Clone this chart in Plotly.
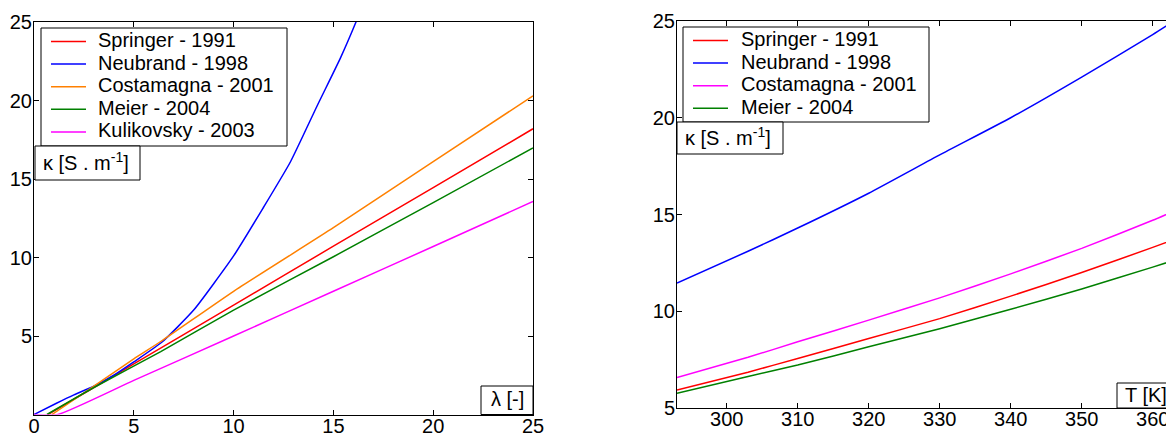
import plotly.graph_objects as go

# page is 1174x433; the browser body has an 8px margin, so the figure is 8px smaller
PAGE_W, PAGE_H = 1174, 433
OFF = 8
W, H = PAGE_W - OFF, PAGE_H - OFF
FONT = "Liberation Sans, Arial, Helvetica, sans-serif"

# ---------------- Left panel: kappa vs lambda ----------------
series_left = ["Springer - 1991", "Neubrand - 1998", "Costamagna - 2001",
               "Meier - 2004", "Kulikovsky - 2003"]
colors_left = ["#ff0000", "#0000ff", "#ff8000", "#008000", "#ff00ff"]

lam_springer = [0.7, 3, 5, 10, 15, 20, 25]
kap_springer = [0.0, 1.72, 3.22, 6.97, 10.72, 14.45, 18.2]

lam_neubrand = [0, 1.1, 2, 3, 4, 5, 6.4, 8, 10, 11.5, 12.85, 14.2, 15.35, 16.1, 16.5]
kap_neubrand = [0, 0.7, 1.25, 1.8, 2.5, 3.35, 4.6, 6.65, 10.1, 13.2, 16.1, 19.7, 22.7, 24.9, 26.2]

lam_costamagna = [0.9, 3, 5, 6.35, 10, 15, 20, 25]
kap_costamagna = [0.0, 1.8, 3.55, 4.65, 7.85, 11.9, 16.1, 20.3]

lam_meier = [0.65, 3, 6.35, 10, 15, 20, 25]
kap_meier = [0.0, 1.72, 4.0, 6.65, 10.05, 13.5, 16.98]

lam_kulikovsky = [0, 1.2, 5, 10, 15, 20, 25]
kap_kulikovsky = [0, 0, 2.17, 5.0, 7.85, 10.7, 13.57]

left_x = [lam_springer, lam_neubrand, lam_costamagna, lam_meier, lam_kulikovsky]
left_y = [kap_springer, kap_neubrand, kap_costamagna, kap_meier, kap_kulikovsky]

left_xticks = [0, 5, 10, 15, 20, 25]
left_yticks = [5, 10, 15, 20, 25]

# ---------------- Right panel: kappa vs T ----------------
series_right = ["Springer - 1991", "Neubrand - 1998", "Costamagna - 2001", "Meier - 2004"]
colors_right = ["#ff0000", "#0000ff", "#ff00ff", "#008000"]

T_vals = [293, 303, 310, 320, 330, 340, 350, 360, 363]
kapT_springer = [5.93, 6.85, 7.56, 8.59, 9.62, 10.78, 12.0, 13.3, 13.7]
kapT_neubrand = [11.46, 13.1, 14.3, 16.1, 18.08, 20.0, 22.1, 24.3, 25.0]
kapT_costamagna = [6.58, 7.62, 8.42, 9.54, 10.69, 11.93, 13.25, 14.7, 15.17]
kapT_meier = [5.76, 6.63, 7.22, 8.16, 9.1, 10.1, 11.15, 12.28, 12.63]
right_y = [kapT_springer, kapT_neubrand, kapT_costamagna, kapT_meier]

right_xticks = [300, 310, 320, 330, 340, 350, 360]
right_yticks = [5, 10, 15, 20, 25]


def px(x):
    """page pixel x -> paper fraction"""
    return (x - OFF) / W


def py(y):
    """page pixel y -> paper fraction"""
    return 1 - (y - OFF) / H


fig = go.Figure()
for name, c, xs, ys in zip(series_left, colors_left, left_x, left_y):
    fig.add_trace(go.Scatter(x=xs, y=ys, mode="lines", name=name,
                             line=dict(color=c, width=1.5, shape="spline", smoothing=0.5),
                             xaxis="x", yaxis="y", showlegend=False))
for name, c, ys in zip(series_right, colors_right, right_y):
    fig.add_trace(go.Scatter(x=T_vals, y=ys, mode="lines", name=name,
                             line=dict(color=c, width=1.5, shape="spline", smoothing=0.5),
                             xaxis="x2", yaxis="y2", showlegend=False))

axis_common = dict(showgrid=False, zeroline=False, showline=True, linecolor="black",
                   linewidth=1, mirror="ticks", ticks="inside", ticklen=5,
                   tickcolor="black", tickwidth=1, automargin=False,
                   tickfont=dict(family=FONT, size=20, color="black"))

fig.update_layout(
    width=W, height=H,
    margin=dict(l=0, r=0, t=0, b=0, pad=0),
    paper_bgcolor="white", plot_bgcolor="white",
    font=dict(family=FONT, size=20, color="black"),
    xaxis=dict(domain=[px(34), px(533)], range=[0, 25], tickvals=left_xticks,
               anchor="y", ticklabelstandoff=-7, **axis_common),
    yaxis=dict(domain=[py(414.5), py(22)], range=[0, 25], tickvals=left_yticks,
               anchor="x", ticklabelstandoff=-3, **axis_common),
    xaxis2=dict(domain=[px(677), px(1174)], range=[293, 363], tickvals=right_xticks,
                anchor="y2", ticklabelstandoff=-7, **axis_common),
    yaxis2=dict(domain=[py(408), py(21)], range=[5, 25], tickvals=right_yticks,
                anchor="x2", ticklabelstandoff=-3, **axis_common),
)

shapes = []
annotations = []


def box(x0, y0, x1, y1):
    shapes.append(dict(type="rect", xref="paper", yref="paper",
                       x0=px(x0), x1=px(x1), y0=py(y1), y1=py(y0),
                       line=dict(color="black", width=1), fillcolor="white",
                       layer="above"))


def text(x, y, s, xanchor="left"):
    annotations.append(dict(xref="paper", yref="paper", x=px(x), y=py(y), text=s,
                            showarrow=False, xanchor=xanchor, yanchor="middle",
                            font=dict(family=FONT, size=20, color="black")))


def legend(x0, y0, x1, y1, line_x0, line_x1, text_x, first_y, step, names, cols):
    box(x0, y0, x1, y1)
    for i, (n, c) in enumerate(zip(names, cols)):
        yy = first_y + i * step
        shapes.append(dict(type="line", xref="paper", yref="paper",
                           x0=px(line_x0), x1=px(line_x1), y0=py(yy), y1=py(yy),
                           line=dict(color=c, width=1.5), layer="above"))
        text(text_x, yy - 1.5, n)


# left panel decorations
legend(41, 28, 287, 146, 51, 86, 96, 41.5, 22.6, series_left, colors_left)
box(35, 146, 140, 180)
text(41, 162, "κ [S . m<sup>-1</sup>]")
box(481, 386, 533, 414.5)
text(507, 399, "λ [-]", xanchor="center")

# right panel decorations
legend(683, 27, 929, 122, 693, 728, 739, 40.5, 22.6, series_right, colors_right)
box(677, 122, 783, 154)
text(683, 137, "κ [S . m<sup>-1</sup>]")
box(1117, 383, 1180, 408)
text(1146, 395, "T [K]", xanchor="center")

fig.update_layout(shapes=shapes, annotations=annotations)

fig.write_html("out.html")
